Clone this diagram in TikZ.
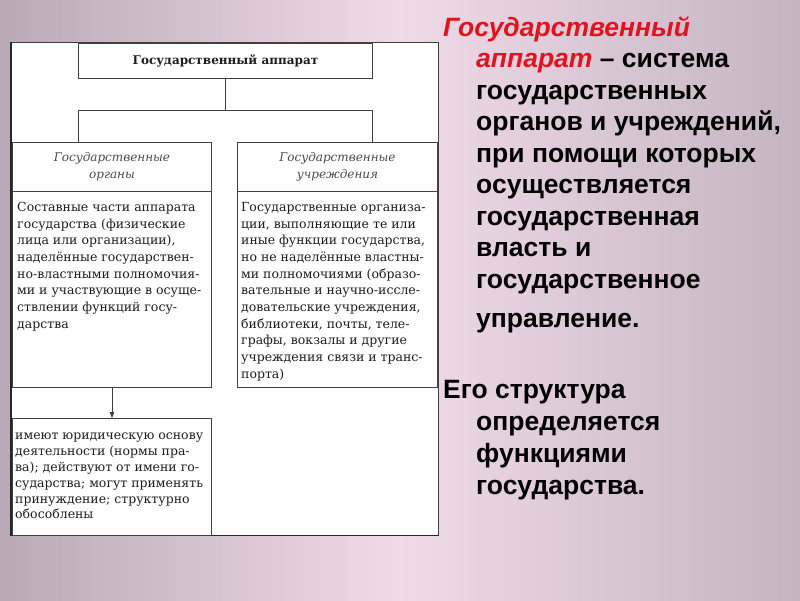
\documentclass[tikz,border=0pt]{standalone}
\usepackage{fontspec}
\setmainfont{DejaVu Serif}
\newfontfamily\arialf{Liberation Sans}
\usetikzlibrary{arrows.meta}
\definecolor{bgL}{HTML}{B9A9B6}
\definecolor{bgM}{HTML}{F0DAE8}
\definecolor{bgR}{HTML}{C4B4C1}
\definecolor{redt}{HTML}{E0141E}
\definecolor{ink}{HTML}{1E1E1E}
\definecolor{frame}{HTML}{404040}
\begin{document}
\begin{tikzpicture}[x=1pt,y=-1pt,
  box/.style={draw=frame, line width=1pt, fill=white, inner sep=0pt, anchor=north west},
  body/.style={anchor=north west, inner sep=0pt, align=left, text=ink, font=\fontsize{12.5}{16.7}\selectfont},
  hdr/.style={align=center, text=ink!80, font=\fontsize{12}{17}\selectfont\itshape},
  rt/.style={anchor=base west, inner sep=0pt, font=\fontsize{26.5}{32}\arialf\bfseries},
  conn/.style={draw=frame, line width=0.9pt}]
\useasboundingbox (0,0) rectangle (800,600);
\shade[left color=bgL, right color=bgR, middle color=bgM] (0,0) rectangle (800,600);
% outer panel
\fill[white] (10,42) rectangle (438,535);
\draw[frame, line width=0.8pt] (10,42) rectangle (438,535);
\draw[black!85, line width=1.8pt] (11,42) -- (11,535.5) -- (438.5,535.5);
% boxes
\node[box, minimum width=294pt, minimum height=35pt, font=\fontsize{12}{14}\selectfont\bfseries, text=ink] (top) at (78,43) {Государственный аппарат};
\node[box, hdr, minimum width=199pt, minimum height=49pt] (orgh) at (12,142) {Государственные\\органы};
\node[box, minimum width=199pt, minimum height=196pt] (orgb) at (12,191) {};
\node[box, hdr, minimum width=200pt, minimum height=49pt] (uchh) at (237,142) {Государственные\\учреждения};
\node[box, minimum width=200pt, minimum height=196pt] (uchb) at (237,191) {};
\node[box, minimum width=199pt, minimum height=117pt] (prop) at (12,418) {};
% texts in boxes
\node[body] (orgt) at (17,202) {Составные части аппарата\\государства (физические\\лица или организации),\\наделённые государствен-\\но-властными полномочия-\\ми и участвующие в осуще-\\ствлении функций госу-\\дарства};
\node[body] (ucht) at (241,202) {Государственные организа-\\ции, выполняющие те или\\иные функции государства,\\но не наделённые властны-\\ми полномочиями (образо-\\вательные и научно-иссле-\\довательские учреждения,\\библиотеки, почты, теле-\\графы, вокзалы и другие\\учреждения связи и транс-\\порта)};
\node[body, font=\fontsize{12.5}{15.8}\selectfont] (propt) at (15,433) {имеют юридическую основу\\деятельности (нормы пра-\\ва); действуют от имени го-\\сударства; могут применять\\принуждение; структурно\\обособлены};
% connectors
\coordinate (jl) at (78,110);
\coordinate (jr) at (372,110);
\draw[conn] (top.south) -- (top.south |- jl);
\draw[conn] (jl) -- (jr);
\draw[conn] (jl) -- (jl |- orgh.north);
\draw[conn] (jr) -- (jr |- uchh.north);
\draw[conn, -{Triangle[length=6pt,width=4.5pt]}] (orgb.south) -- (prop.north);
% right text
\node[rt, text=redt, font=\fontsize{26.5}{32}\arialf\bfseries\itshape] (r1) at (443,36) {Государственный};
\node[rt] (r2) at (476,67.5) {{\color{redt}\itshape аппарат} – система};
\node[rt] (r3) at (476,99) {государственных};
\node[rt] (r4) at (476,130.5) {органов и учреждений,};
\node[rt] (r5) at (476,162) {при помощи которых};
\node[rt] (r6) at (476,193.5) {осуществляется};
\node[rt] (r7) at (476,225) {государственная};
\node[rt] (r8) at (476,256.5) {власть и};
\node[rt] (r9) at (476,288) {государственное};
\node[rt] (r10) at (476,327) {управление.};
\node[rt] (r11) at (443,398) {Его структура};
\node[rt] (r12) at (476,430.5) {определяется};
\node[rt] (r13) at (476,462) {функциями};
\node[rt] (r14) at (476,494) {государства.};
\end{tikzpicture}
\end{document}
